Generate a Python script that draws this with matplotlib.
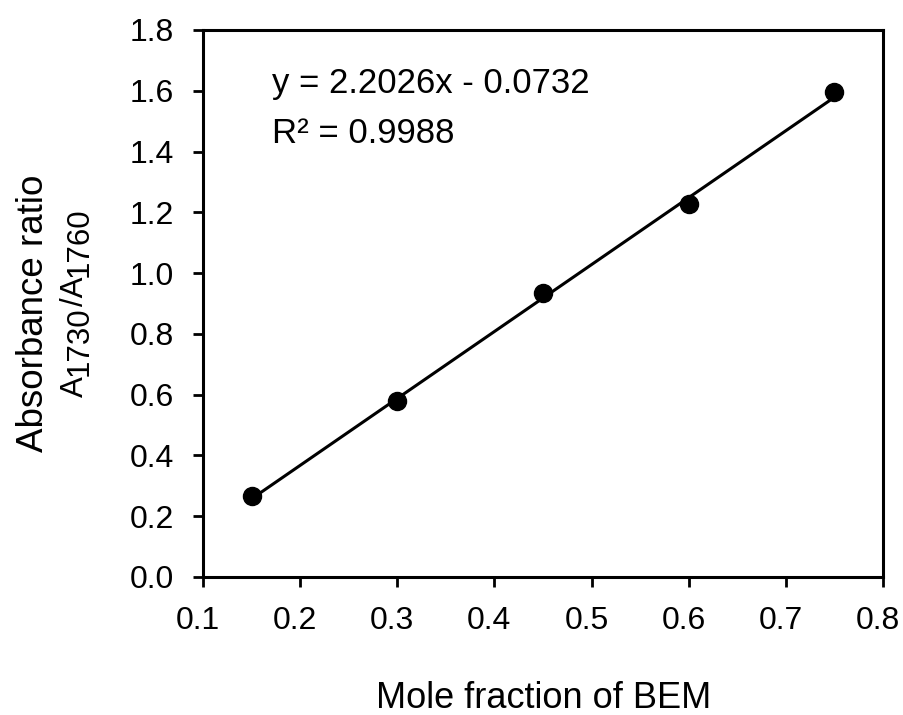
import matplotlib
matplotlib.use('Agg')
import matplotlib.pyplot as plt
import matplotlib.transforms as mtransforms
import numpy as np

# data
mole_fraction = [0.15, 0.30, 0.45, 0.60, 0.75]
abs_ratio = [0.265, 0.578, 0.935, 1.226, 1.596]
slope, intercept = 2.2026, -0.0732
r_squared = 0.9988

xticks = [0.1, 0.2, 0.3, 0.4, 0.5, 0.6, 0.7, 0.8]
yticks = [0.0, 0.2, 0.4, 0.6, 0.8, 1.0, 1.2, 1.4, 1.6, 1.8]

plt.rcParams['font.family'] = ['Liberation Sans', 'DejaVu Sans']

W, H = 904, 715
fig = plt.figure(figsize=(W / 100, H / 100), dpi=100)
ax = fig.add_axes([203 / W, 1 - 577 / H, 680 / W, 547 / H])

fit_x = np.array([mole_fraction[0], mole_fraction[-1]])
ax.plot(fit_x, slope * fit_x + intercept, color='black', lw=2.2, zorder=2)
ax.plot(mole_fraction, abs_ratio, 'o', color='black', ms=13, zorder=3)

ax.set_xlim(0.1, 0.8)
ax.set_ylim(0.0, 1.8)
ax.set_xticks(xticks)
ax.set_xticklabels([f'{v:.1f}' for v in xticks])
ax.set_yticks(yticks)
ax.set_yticklabels([f'{v:.1f}' for v in yticks])

for s in ax.spines.values():
    s.set_linewidth(2.2)
ax.tick_params(direction='out', length=7, width=2, labelsize=23,
               top=False, right=False)
ax.tick_params(axis='x', pad=14)
ax.tick_params(axis='y', pad=14)

# x tick labels sit a little left of their ticks in the original
shift = mtransforms.ScaledTranslation(-5 / 100, 0, fig.dpi_scale_trans)
for lab in ax.get_xticklabels():
    lab.set_transform(lab.get_transform() + shift)

# axis titles
fig.text(544 / W, 1 - 708 / H, 'Mole fraction of BEM', fontsize=26,
         ha='center', va='baseline')
fig.text(43 / W, 1 - 313 / H, 'Absorbance ratio', fontsize=26.5,
         rotation=90, rotation_mode='anchor', ha='center', va='baseline')

# second line: full-size subscripts, just dropped below the baseline
pieces = [('A', 0), ('1730', 5), ('/A', 0), ('1760', 5)]
renderer = fig.canvas.get_renderer()
parts = []
for s, drop in pieces:
    t = fig.text(0, 0, s, fontsize=22.5, rotation=90, rotation_mode='anchor',
                 ha='left', va='baseline')
    parts.append((t, drop, t.get_window_extent(renderer).height))
total = sum(p[2] for p in parts)
ypos = (H - 302) - total / 2
for t, drop, length in parts:
    t.set_position(((83 + drop) / W, ypos / H))
    ypos += length

# regression equation
ax.text(0.171, 1.593, f'y = {slope}x - {abs(intercept)}', fontsize=25,
        va='baseline')
ax.text(0.171, 1.428, f'R\u00b2 = {r_squared}', fontsize=25, va='baseline')

fig.savefig('out.png', dpi=100, facecolor='white')
